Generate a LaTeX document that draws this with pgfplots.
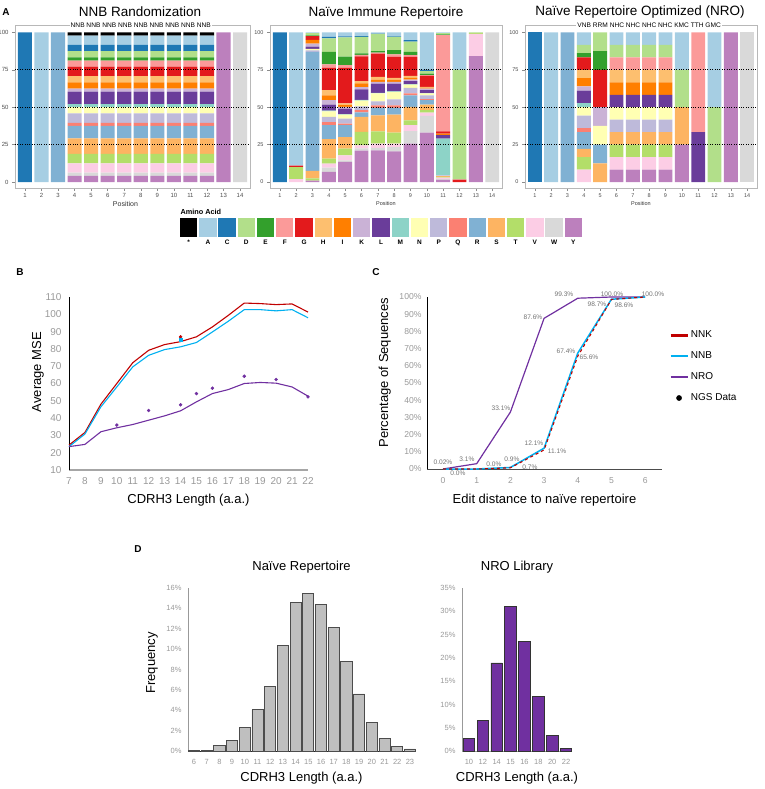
\documentclass[border=0pt]{standalone}
\usepackage{fontspec}
\setmainfont{Liberation Sans}
\usepackage{pgfplots}
\usepackage{pgfplotstable}
\pgfplotsset{compat=1.18}
\usetikzlibrary{calc}
\newcommand{\fs}[1]{\fontsize{#1}{#1}\selectfont}

\definecolor{aaX}{HTML}{000000}
\definecolor{aaA}{HTML}{A6CEE3}
\definecolor{aaC}{HTML}{1F78B4}
\definecolor{aaD}{HTML}{B2DF8A}
\definecolor{aaE}{HTML}{33A02C}
\definecolor{aaF}{HTML}{FB9A99}
\definecolor{aaG}{HTML}{E31A1C}
\definecolor{aaH}{HTML}{FDBF6F}
\definecolor{aaI}{HTML}{FF7F00}
\definecolor{aaK}{HTML}{CAB2D6}
\definecolor{aaL}{HTML}{6A3D9A}
\definecolor{aaM}{HTML}{8DD3C7}
\definecolor{aaN}{HTML}{FFFFB3}
\definecolor{aaP}{HTML}{BEBADA}
\definecolor{aaQ}{HTML}{FB8072}
\definecolor{aaR}{HTML}{80B1D3}
\definecolor{aaS}{HTML}{FDB462}
\definecolor{aaT}{HTML}{B3DE69}
\definecolor{aaV}{HTML}{FCCDE5}
\definecolor{aaW}{HTML}{D9D9D9}
\definecolor{aaY}{HTML}{BC80BD}
\definecolor{nnk}{HTML}{C00000}
\definecolor{nnb}{HTML}{00B0F0}
\definecolor{nro}{HTML}{7030A0}
\definecolor{naive}{HTML}{BFBFBF}
\definecolor{tick}{HTML}{999999}

\pgfplotstableread{
pos Y W V T S R Q P N M L K I H G F E D C A X
1 0 0 0 0 0 0 0 0 0 0 0 0 0 0 0 0 0 0 100 0 0
2 0 0 0 0 0 0 0 0 0 0 0 0 0 0 0 0 0 0 0 100 0
3 0 0 0 0 0 100 0 0 0 0 0 0 0 0 0 0 0 0 0 0 0
4 4.1667 2.0833 6.25 6.25 10.4167 8.3333 2.0833 6.25 4.1667 2.0833 8.3333 2.0833 4.1667 4.1667 6.25 4.1667 2.0833 4.1667 4.1667 6.25 2.0833
5 4.1667 2.0833 6.25 6.25 10.4167 8.3333 2.0833 6.25 4.1667 2.0833 8.3333 2.0833 4.1667 4.1667 6.25 4.1667 2.0833 4.1667 4.1667 6.25 2.0833
6 4.1667 2.0833 6.25 6.25 10.4167 8.3333 2.0833 6.25 4.1667 2.0833 8.3333 2.0833 4.1667 4.1667 6.25 4.1667 2.0833 4.1667 4.1667 6.25 2.0833
7 4.1667 2.0833 6.25 6.25 10.4167 8.3333 2.0833 6.25 4.1667 2.0833 8.3333 2.0833 4.1667 4.1667 6.25 4.1667 2.0833 4.1667 4.1667 6.25 2.0833
8 4.1667 2.0833 6.25 6.25 10.4167 8.3333 2.0833 6.25 4.1667 2.0833 8.3333 2.0833 4.1667 4.1667 6.25 4.1667 2.0833 4.1667 4.1667 6.25 2.0833
9 4.1667 2.0833 6.25 6.25 10.4167 8.3333 2.0833 6.25 4.1667 2.0833 8.3333 2.0833 4.1667 4.1667 6.25 4.1667 2.0833 4.1667 4.1667 6.25 2.0833
10 4.1667 2.0833 6.25 6.25 10.4167 8.3333 2.0833 6.25 4.1667 2.0833 8.3333 2.0833 4.1667 4.1667 6.25 4.1667 2.0833 4.1667 4.1667 6.25 2.0833
11 4.1667 2.0833 6.25 6.25 10.4167 8.3333 2.0833 6.25 4.1667 2.0833 8.3333 2.0833 4.1667 4.1667 6.25 4.1667 2.0833 4.1667 4.1667 6.25 2.0833
12 4.1667 2.0833 6.25 6.25 10.4167 8.3333 2.0833 6.25 4.1667 2.0833 8.3333 2.0833 4.1667 4.1667 6.25 4.1667 2.0833 4.1667 4.1667 6.25 2.0833
13 100 0 0 0 0 0 0 0 0 0 0 0 0 0 0 0 0 0 0 0 0
14 0 100 0 0 0 0 0 0 0 0 0 0 0 0 0 0 0 0 0 0 0
}\tabNNB

\pgfplotstableread{
pos Y W V T S R Q P N M L K I H G F E D C A X
1 0 0 0 0 0 0 0 0 0 0 0 0 0 0 0 0 0 0 100 0 0
2 0 0 2 8 0 0 0 0 0 0 0 0 0 0 1 0 0 0 0 89 0
3 1 0 0 1.5 5 79.5 0 1 1 0 1.5 2 2.5 0 2.5 0 0.5 1.5 0 0.5 0
4 6.7 2.9 2.7 3.3 13 9.4 2 3.5 3.8 0.5 4 2.9 3.3 3.4 14.9 2.3 8.4 9 1 3 0
5 13.4 1.1 3.4 4.4 7.8 7.9 1 3.4 2.6 0.4 3.6 1.2 1.2 1.2 23.8 1.8 5.6 13 0.6 2.6 0
6 21 1.5 2 9 10 3 1.5 2.5 4 0.5 7 1.5 2.5 1.5 16.5 1 1 11 0.5 2.5 0
7 21.2 1.6 2.9 8.2 10.7 4.9 1.8 2.7 5.2 0.4 6.2 1.2 1.5 1.8 15.6 0.6 1 11.5 0.3 0.7 0
8 20.5 2.9 2.3 7.3 12 4.5 1.8 4 4.9 0.4 5.2 1.2 1.5 1.1 14.1 1.6 2.9 8.8 0.4 2.6 0
9 25.7 8.3 4 3.3 8.9 7.8 1.2 3.8 2.2 0.2 2 1.1 1.1 1.4 12.7 1.1 2.2 6.8 1.1 5.1 0
10 33 11.2 2.2 1.6 3.8 2.9 0.7 2.6 1.2 0.2 2 1.1 0.7 0.4 7.4 0.4 1.1 1.6 1.1 24.8 0
11 1.5 0.5 1 0.5 0.5 0 0 0.5 0 24.5 2.3 0 1 0 1.5 64.5 0.5 0.7 0 0.5 0
12 0 0 0 0 0 0 0 0 0 0 0 0 0 0 1.5 0.3 0.2 73 0 25 0
13 84.2 0 14.9 0.5 0 0 0 0 0 0 0 0 0 0 0 0 0 0.4 0 0 0
14 0 100 0 0 0 0 0 0 0 0 0 0 0 0 0 0 0 0 0 0 0
}\tabNaive

\pgfplotstableread{
pos Y W V T S R Q P N M L K I H G F E D C A X
1 0 0 0 0 0 0 0 0 0 0 0 0 0 0 0 0 0 0 100 0 0
2 0 0 0 0 0 0 0 0 0 0 0 0 0 0 0 0 0 0 0 100 0
3 0 0 0 0 0 100 0 0 0 0 0 0 0 0 0 0 0 0 0 0 0
4 0 0 8.333 8.333 5.556 11.111 2.778 8.333 5.556 2.778 8.333 2.778 5.556 5.556 8.333 0 2.778 5.556 0 8.333 0
5 0 0 0 0 12.5 12.5 0 0 12.5 0 0 12.5 0 0 25 0 12.5 12.5 0 0 0
6 8.333 0 8.333 8.333 8.333 0 0 8.333 8.333 0 8.333 0 8.333 8.333 0 8.333 0 8.333 0 8.333 0
7 8.333 0 8.333 8.333 8.333 0 0 8.333 8.333 0 8.333 0 8.333 8.333 0 8.333 0 8.333 0 8.333 0
8 8.333 0 8.333 8.333 8.333 0 0 8.333 8.333 0 8.333 0 8.333 8.333 0 8.333 0 8.333 0 8.333 0
9 8.333 0 8.333 8.333 8.333 0 0 8.333 8.333 0 8.333 0 8.333 8.333 0 8.333 0 8.333 0 8.333 0
10 25 0 0 0 25 0 0 0 0 0 0 0 0 0 0 0 0 25 0 25 0
11 0 0 0 0 0 0 0 0 0 0 33.333 0 0 0 0 66.667 0 0 0 0 0
12 0 0 0 0 0 0 0 0 0 0 0 0 0 0 0 0 0 50 0 50 0
13 100 0 0 0 0 0 0 0 0 0 0 0 0 0 0 0 0 0 0 0 0
14 0 100 0 0 0 0 0 0 0 0 0 0 0 0 0 0 0 0 0 0 0
}\tabNRO

\newcommand{\aastack}[1]{%
\addplot[fill=aaY,draw=none] table[x=pos,y=Y]{#1};
\addplot[fill=aaW,draw=none] table[x=pos,y=W]{#1};
\addplot[fill=aaV,draw=none] table[x=pos,y=V]{#1};
\addplot[fill=aaT,draw=none] table[x=pos,y=T]{#1};
\addplot[fill=aaS,draw=none] table[x=pos,y=S]{#1};
\addplot[fill=aaR,draw=none] table[x=pos,y=R]{#1};
\addplot[fill=aaQ,draw=none] table[x=pos,y=Q]{#1};
\addplot[fill=aaP,draw=none] table[x=pos,y=P]{#1};
\addplot[fill=aaN,draw=none] table[x=pos,y=N]{#1};
\addplot[fill=aaM,draw=none] table[x=pos,y=M]{#1};
\addplot[fill=aaL,draw=none] table[x=pos,y=L]{#1};
\addplot[fill=aaK,draw=none] table[x=pos,y=K]{#1};
\addplot[fill=aaI,draw=none] table[x=pos,y=I]{#1};
\addplot[fill=aaH,draw=none] table[x=pos,y=H]{#1};
\addplot[fill=aaG,draw=none] table[x=pos,y=G]{#1};
\addplot[fill=aaF,draw=none] table[x=pos,y=F]{#1};
\addplot[fill=aaE,draw=none] table[x=pos,y=E]{#1};
\addplot[fill=aaD,draw=none] table[x=pos,y=D]{#1};
\addplot[fill=aaC,draw=none] table[x=pos,y=C]{#1};
\addplot[fill=aaA,draw=none] table[x=pos,y=A]{#1};
\addplot[fill=aaX,draw=none] table[x=pos,y=X]{#1};
}

\pgfplotsset{
  /pgf/number format/assume math mode=true,
  aaaxis/.style={
    anchor=south west, scale only axis, height=163pt,
    xmin=0.4, xmax=14.6, ymin=-4, ymax=105,
    ybar stacked, bar width=0.85,
    axis on top,
    axis line style={draw=black!28, line width=0.9pt},
    xtick={1,...,14}, ytick={0,100},
    extra y ticks={25,50,75},
    extra y tick style={grid=major},
    major grid style={draw=black, dotted, line width=0.8pt},
    tick pos=left, tick align=outside,
    major tick length=3pt,
    tick style={draw=black!45, line width=0.5pt},
    ticklabel style={font=\fs{5.5}, text=black!70},
    xticklabel style={yshift=1pt},
    xlabel={Position},
  },
  lineaxis/.style={
    anchor=south west, scale only axis, clip=false,
    axis x line*=bottom, axis y line*=left,
    axis line style={-},
    major tick length=0pt,
    ticklabel style={text=tick},
    label style={font=\fs{13}},
  },
}

\begin{document}
\begin{tikzpicture}
\path[use as bounding box] (0pt,0pt) rectangle (764pt,-789pt);

% ---------------- Panel A ----------------
\node[font=\bfseries\fs{10}] at (6pt,-12pt) {A};
\node[font=\fs{13.5}] at (140pt,-12pt) {NNB Randomization};
\node[font=\fs{13.5}] at (386pt,-13pt) {Naïve Immune Repertoire};
\node[font=\fs{13.5}] at (640pt,-12pt) {Naïve Repertoire Optimized (NRO)};

\begin{axis}[aaaxis, name=a1, at={(15pt,-188pt)}, width=235pt,
  ticklabel style={font=\fs{6}},
  xlabel style={font=\fs{7}, text=black!80, at={(axis description cs:0.47,0)}, anchor=center, yshift=-16pt}]
\aastack{\tabNNB}
\end{axis}
\node[fill=white, inner sep=1pt, font=\fs{6.6}] at ($(a1.north west)!0.5352!(a1.north east)$) {NNB NNB NNB NNB NNB NNB NNB NNB NNB};

\begin{axis}[aaaxis, name=a2, at={(270pt,-188pt)}, width=232pt,
  xlabel style={font=\fs{5.5}, text=black!80, at={(axis description cs:0.5,0)}, anchor=center, yshift=-15.5pt}]
\aastack{\tabNaive}
\end{axis}

\begin{axis}[aaaxis, name=a3, at={(525pt,-188pt)}, width=232pt,
  xlabel style={font=\fs{5.5}, text=black!80, at={(axis description cs:0.5,0)}, anchor=center, yshift=-15.5pt}]
\aastack{\tabNRO}
\end{axis}
\node[fill=white, inner sep=1pt, font=\fs{6.6}] at ($(a3.north west)!0.5352!(a3.north east)$) {VNB RRM NHC NHC NHC NHC KMC TTH GMC};

% amino acid legend
\node[font=\bfseries\fs{7.3}, anchor=west] at (177pt,-212pt) {Amino Acid};
\begin{axis}[anchor=south west, at={(179pt,-237pt)}, scale only axis, width=404pt, height=19pt,
  xmin=-0.5, xmax=20.5, ymin=0, ymax=1, axis line style={draw=none}, ytick=\empty,
  xtick={0,...,20}, xticklabels={*,A,C,D,E,F,G,H,I,K,L,M,N,P,Q,R,S,T,V,W,Y},
  major tick length=0pt, xticklabel style={font=\bfseries\fs{6.5}, yshift=1pt}]
\addplot[ybar, bar width=0.9, fill=aaX, draw=none] coordinates {(0,1)};
\addplot[ybar, bar width=0.9, fill=aaA, draw=none] coordinates {(1,1)};
\addplot[ybar, bar width=0.9, fill=aaC, draw=none] coordinates {(2,1)};
\addplot[ybar, bar width=0.9, fill=aaD, draw=none] coordinates {(3,1)};
\addplot[ybar, bar width=0.9, fill=aaE, draw=none] coordinates {(4,1)};
\addplot[ybar, bar width=0.9, fill=aaF, draw=none] coordinates {(5,1)};
\addplot[ybar, bar width=0.9, fill=aaG, draw=none] coordinates {(6,1)};
\addplot[ybar, bar width=0.9, fill=aaH, draw=none] coordinates {(7,1)};
\addplot[ybar, bar width=0.9, fill=aaI, draw=none] coordinates {(8,1)};
\addplot[ybar, bar width=0.9, fill=aaK, draw=none] coordinates {(9,1)};
\addplot[ybar, bar width=0.9, fill=aaL, draw=none] coordinates {(10,1)};
\addplot[ybar, bar width=0.9, fill=aaM, draw=none] coordinates {(11,1)};
\addplot[ybar, bar width=0.9, fill=aaN, draw=none] coordinates {(12,1)};
\addplot[ybar, bar width=0.9, fill=aaP, draw=none] coordinates {(13,1)};
\addplot[ybar, bar width=0.9, fill=aaQ, draw=none] coordinates {(14,1)};
\addplot[ybar, bar width=0.9, fill=aaR, draw=none] coordinates {(15,1)};
\addplot[ybar, bar width=0.9, fill=aaS, draw=none] coordinates {(16,1)};
\addplot[ybar, bar width=0.9, fill=aaT, draw=none] coordinates {(17,1)};
\addplot[ybar, bar width=0.9, fill=aaV, draw=none] coordinates {(18,1)};
\addplot[ybar, bar width=0.9, fill=aaW, draw=none] coordinates {(19,1)};
\addplot[ybar, bar width=0.9, fill=aaY, draw=none] coordinates {(20,1)};
\end{axis}

% ---------------- Panel B ----------------
\node[font=\bfseries\fs{10}] at (20pt,-272pt) {B};
\begin{axis}[lineaxis, at={(69pt,-470pt)}, width=239pt, height=173pt,
  xmin=7, xmax=22, ymin=10, ymax=110,
  xtick={7,...,22}, ytick={10,20,...,110},
  x axis line style={draw=black!35, line width=1.6pt},
  y axis line style={draw=black, line width=0.9pt},
  ticklabel style={font=\fs{10}},
  xticklabel style={yshift=-4pt}, yticklabel style={xshift=-4pt},
  xlabel={CDRH3 Length (a.a.)}, ylabel={Average MSE},
  xlabel style={at={(axis description cs:0.5,0)}, anchor=center, yshift=-30pt},
  ylabel style={at={(axis description cs:-0.13,0.566)}, anchor=center}]
\addplot[nnk, line width=1.1pt] coordinates {(7,24.4)(8,31.7)(9,48)(10,60)(11,72)(12,79.2)(13,82.5)(14,84.2)(15,87)(16,92.7)(17,99.4)(18,106.5)(19,106.2)(20,105.6)(21,106)(22,101.3)};
\addplot[nnb, line width=1.1pt] coordinates {(7,23.5)(8,30.8)(9,46.5)(10,58)(11,69.6)(12,76.3)(13,79.6)(14,81.2)(15,83.7)(16,89.8)(17,96)(18,102.7)(19,102.7)(20,102)(21,102.7)(22,98)};
\addplot[nro, line width=1.1pt] coordinates {(7,23.5)(8,24.8)(9,32.1)(10,34.4)(11,36.3)(12,38.8)(13,41.3)(14,44.2)(15,49.4)(16,54.2)(17,56.5)(18,60)(19,60.6)(20,60.2)(21,58)(22,52.7)};
\addplot[only marks, mark=*, mark size=1.5pt, nro] coordinates {(10,36)(12,44.4)(14,47.7)(15,54.2)(16,57.3)(18,64.2)(20,62.3)(22,52.3)};
\addplot[only marks, mark=*, mark size=1.5pt, nnk] coordinates {(14,87)};
\addplot[only marks, mark=square*, mark size=1.3pt, nnb] coordinates {(14,85.4)};
\end{axis}

% ---------------- Panel C ----------------
\node[font=\bfseries\fs{10}] at (376pt,-272pt) {C};
\begin{axis}[lineaxis, at={(427pt,-469pt)}, width=235pt, height=172pt,
  xmin=-0.475, xmax=6.5, ymin=0, ymax=100,
  xtick={0,...,6}, ytick={0,10,...,100},
  yticklabel={\pgfmathprintnumber{\tick}\%},
  x axis line style={draw=black!70, line width=0.9pt},
  y axis line style={draw=black, line width=0.9pt},
  ticklabel style={font=\fs{8.6}},
  xticklabel style={yshift=-5pt}, yticklabel style={xshift=-2pt},
  xlabel={Edit distance to naïve repertoire}, ylabel={Percentage of Sequences},
  xlabel style={at={(axis description cs:0.5,0)}, anchor=center, yshift=-31pt},
  ylabel style={at={(axis description cs:-0.18,0.56)}, anchor=center},
  legend style={at={(axis description cs:1.03,0.815)}, anchor=north west, draw=none, fill=none,
    font=\fs{10}, row sep=8.5pt, inner sep=0pt},
  legend cell align=left]
\addlegendimage{nnk, line width=2.6pt}\addlegendentry{NNK}
\addlegendimage{nnb, line width=2.6pt}\addlegendentry{NNB}
\addlegendimage{nro, line width=2.6pt}\addlegendentry{NRO}
\addlegendimage{only marks, mark=*, mark size=2.6pt, black}\addlegendentry{NGS Data}
\addplot[forget plot, nro, line width=1.2pt] coordinates {(0,0.02)(1,3.1)(2,33.1)(3,87.6)(4,99.3)(5,100)(6,100)};
\addplot[forget plot, nnb, line width=1.5pt] coordinates {(0,0)(1,0)(2,0.9)(3,12.1)(4,67.4)(5,98.7)(6,100)};
\addplot[forget plot, nnk, line width=1.1pt, dash pattern=on 3pt off 3pt] coordinates {(0,0)(1,0)(2,0.7)(3,11.1)(4,65.6)(5,98.6)(6,100)};
\end{axis}
\begin{scope}[every node/.style={font=\fs{6.6}, text=black!55, inner sep=0.5pt}]
\node at (443pt,-462pt) {0.02\%};
\node at (458pt,-473pt) {0.0\%};
\node at (467pt,-459pt) {3.1\%};
\node at (494pt,-464pt) {0.0\%};
\node at (512pt,-459pt) {0.9\%};
\node at (530pt,-467pt) {0.7\%};
\node at (501pt,-408pt) {33.1\%};
\node at (534pt,-443pt) {12.1\%};
\node at (557pt,-451pt) {11.1\%};
\node at (533pt,-317pt) {87.6\%};
\node at (566pt,-351pt) {67.4\%};
\node at (589pt,-357pt) {65.6\%};
\node at (564pt,-294pt) {99.3\%};
\node at (612pt,-294pt) {100.0\%};
\node at (597pt,-304pt) {98.7\%};
\node at (624pt,-305pt) {98.6\%};
\node at (653pt,-294pt) {100.0\%};
\end{scope}

% ---------------- Panel D ----------------
\node[font=\bfseries\fs{10}] at (138pt,-549pt) {D};
\begin{axis}[lineaxis, at={(188pt,-751pt)}, width=227pt, height=163pt,
  ybar, bar width=0.87,
  xmin=5.53, xmax=23.4, ymin=0, ymax=16,
  xtick={6,...,23}, ytick={0,2,...,16},
  yticklabel={\pgfmathprintnumber{\tick}\%},
  x axis line style={draw=black!85, line width=1pt},
  y axis line style={draw=black!40, line width=1pt},
  ticklabel style={font=\fs{7.5}},
  xticklabel style={yshift=-5pt}, yticklabel style={xshift=-3pt},
  title={Naïve Repertoire}, title style={font=\fs{13}, at={(axis description cs:0.5,1)}, anchor=center, yshift=15pt},
  xlabel={CDRH3 Length (a.a.)}, ylabel={Frequency},
  xlabel style={at={(axis description cs:0.5,0)}, anchor=center, yshift=-27pt},
  ylabel style={at={(axis description cs:-0.159,0.54)}, anchor=center}]
\addplot[fill=naive, draw=black!70, line width=0.8pt] coordinates {(6,0.03)(7,0.07)(8,0.55)(9,1.05)(10,2.3)(11,4.05)(12,6.3)(13,10.4)(14,14.6)(15,15.45)(16,14.4)(17,12.1)(18,8.8)(19,5.6)(20,2.8)(21,1.25)(22,0.46)(23,0.2)};
\end{axis}

\begin{axis}[lineaxis, at={(462pt,-751pt)}, width=110pt, height=163pt,
  ybar, bar width=0.83,
  xmin=-0.5, xmax=7.43, ymin=0, ymax=35,
  xtick={0,...,7}, xticklabels={10,12,14,15,16,18,20,22}, ytick={0,5,...,35},
  yticklabel={\pgfmathprintnumber{\tick}\%},
  x axis line style={draw=black!40, line width=1pt},
  y axis line style={draw=black!40, line width=1pt},
  ticklabel style={font=\fs{7.5}},
  xticklabel style={yshift=-5pt}, yticklabel style={xshift=-3pt},
  title={NRO Library}, title style={font=\fs{13}, at={(axis description cs:0.5,1)}, anchor=center, yshift=15pt},
  xlabel={CDRH3 Length (a.a.)},
  xlabel style={at={(axis description cs:0.5,0)}, anchor=center, yshift=-27pt}]
\addplot[fill=nro, draw=black!80, line width=0.8pt] coordinates {(0,2.7)(1,6.6)(2,18.9)(3,31.0)(4,23.6)(5,11.8)(6,3.4)(7,0.6)};
\end{axis}
\end{tikzpicture}
\end{document}
